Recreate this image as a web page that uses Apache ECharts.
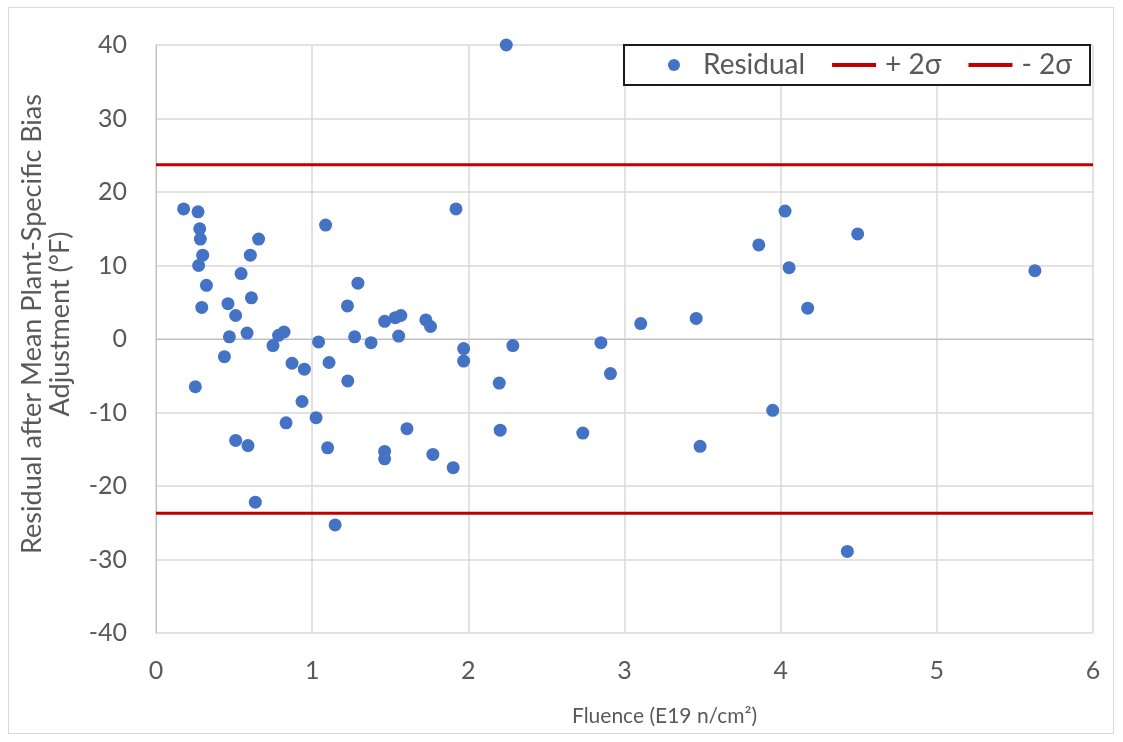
<!DOCTYPE html>
<html>
<head>
<meta charset="utf-8">
<script src="https://cdn.jsdelivr.net/npm/echarts@6/dist/echarts.min.js"></script>
<style>
html,body{margin:0;padding:0;background:#fff;}
#wrap{position:relative;width:1123px;height:742px;}
#frame{position:absolute;left:8px;top:7px;width:1106px;height:727px;border:1px solid #d9d9d9;box-sizing:border-box;}
#chart{position:absolute;left:0;top:0;width:1123px;height:742px;}
</style>
</head>
<body>
<div id="wrap"><div id="frame"></div><div id="chart"></div></div>
<script>
const fluence = [0.177,0.269,0.28,0.284,0.299,0.273,0.657,0.604,0.545,0.323,0.611,0.293,0.461,0.51,0.47,0.583,0.438,0.749,0.785,0.82,0.871,0.95,1.041,1.108,1.086,1.226,0.252,0.935,0.833,1.025,0.51,0.589,1.099,0.636,1.147,1.228,1.921,1.293,1.464,1.532,1.568,1.728,1.758,1.272,1.377,1.554,1.97,1.97,1.607,1.464,1.464,1.773,1.903,2.285,2.198,2.204,2.849,2.91,2.733,3.104,2.243,3.459,3.484,3.86,3.949,4.028,4.054,4.173,4.427,4.493,5.628];
const residual = [17.7,17.3,15.0,13.6,11.4,10.0,13.6,11.4,8.9,7.3,5.6,4.3,4.8,3.2,0.3,0.8,-2.4,-0.9,0.5,0.95,-3.3,-4.1,-0.4,-3.2,15.5,4.5,-6.5,-8.5,-11.4,-10.7,-13.8,-14.5,-14.8,-22.2,-25.3,-5.7,17.7,7.6,2.4,2.9,3.2,2.6,1.7,0.3,-0.5,0.4,-1.3,-3.0,-12.2,-15.3,-16.3,-15.7,-17.5,-0.9,-6.0,-12.4,-0.5,-4.7,-12.8,2.1,40.0,2.8,-14.6,12.8,-9.7,17.4,9.7,4.2,-28.9,14.3,9.3];
const plusTwoSigma = 23.7;
const minusTwoSigma = -23.7;
const xRange = [0, 6];
const seriesNames = ['Residual', '+ 2σ', '- 2σ'];

const font = 'Lato, "Open Sans", sans-serif';
const lineIcon = 'path://M0,0 L44,0 L44,4 L0,4 Z M48,0 L48,0';
const chart = echarts.init(document.getElementById('chart'));
chart.setOption({
  animation: false,
  textStyle: {fontFamily: font},
  grid: {left: 156, right: 30, top: 45, bottom: 109},
  legend: {
    left: 624, top: 45,
    padding: [6, 18, 6, 44],
    borderColor: '#1a1a1a', borderWidth: 2,
    backgroundColor: '#fff',
    itemWidth: 48, itemHeight: 12, itemGap: 27,
    symbolKeepAspect: true,
    textStyle: {fontFamily: font, fontSize: 28, color: '#595959'},
    data: [
      {name: seriesNames[0], icon: 'circle'},
      {name: seriesNames[1], icon: lineIcon},
      {name: seriesNames[2], icon: lineIcon}
    ]
  },
  xAxis: {
    type: 'value', min: xRange[0], max: xRange[1], interval: 1,
    name: 'Fluence (E19 n/cm²)', nameLocation: 'middle', nameGap: 73,
    nameTextStyle: {fontFamily: font, fontSize: 21, color: '#595959', padding: [0, 0, 0, 80]},
    axisLine: {show: true, lineStyle: {color: '#bfbfbf', width: 1}},
    axisTick: {show: false},
    axisLabel: {fontFamily: font, fontSize: 25, color: '#595959', margin: 25},
    splitLine: {show: true, lineStyle: {color: '#d9d9d9', width: 1.5}}
  },
  yAxis: {
    type: 'value', min: -40, max: 40, interval: 10,
    name: 'Residual after Mean Plant-Specific Bias\nAdjustment (°F)', nameLocation: 'middle', nameGap: 82,
    nameTextStyle: {fontFamily: font, fontSize: 27, color: '#595959', lineHeight: 28, padding: [0, 0, 0, 30]},
    axisLine: {show: true, lineStyle: {color: '#bfbfbf', width: 1}},
    axisTick: {show: false},
    axisLabel: {fontFamily: font, fontSize: 25, color: '#595959', margin: 29},
    splitLine: {show: true, lineStyle: {color: '#d9d9d9', width: 1.5}}
  },
  series: [
    {
      name: seriesNames[0], type: 'scatter', symbolSize: 13,
      itemStyle: {color: '#4472C4', opacity: 1},
      data: fluence.map((x, i) => [x, residual[i]]),
      z: 3
    },
    {
      name: seriesNames[1], type: 'line', symbol: 'none', silent: true,
      lineStyle: {color: '#C00000', width: 3}, itemStyle: {color: '#C00000'},
      data: [[xRange[0], plusTwoSigma], [xRange[1], plusTwoSigma]], z: 2
    },
    {
      name: seriesNames[2], type: 'line', symbol: 'none', silent: true,
      lineStyle: {color: '#C00000', width: 3}, itemStyle: {color: '#C00000'},
      data: [[xRange[0], minusTwoSigma], [xRange[1], minusTwoSigma]], z: 2
    }
  ]
});
</script>
</body>
</html>
